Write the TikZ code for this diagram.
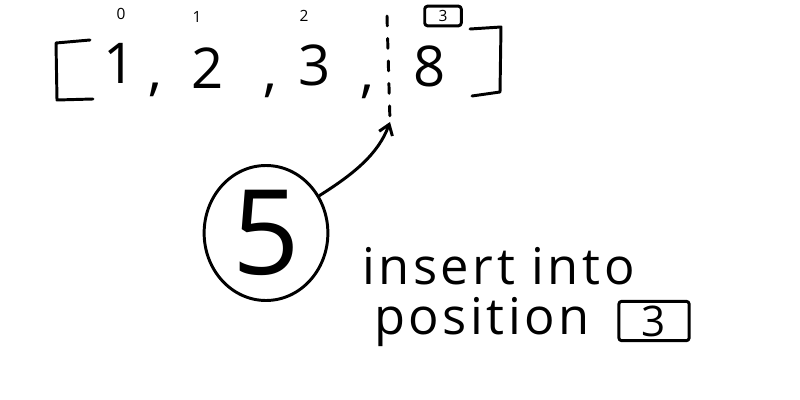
\documentclass[tikz,border=0pt]{standalone}
\usepackage{fontspec}
\setmainfont{Open Sans}
\usetikzlibrary{shapes.geometric,arrows.meta}
\tikzset{
  ink/.style={line width=2.1pt, line cap=round, line join=round, black},
  digit/.style={inner sep=0pt, font=\fontsize{40}{48}\selectfont},
  idx/.style={inner sep=0pt, font=\fontsize{11}{13}\selectfont},
  word/.style={inner sep=0pt, anchor=base west,
    font=\fontsize{36}{44}\selectfont\addfontfeatures{LetterSpace=7}},
  numbox/.style={ink, draw, rounded corners=2pt},
}
\begin{document}
\begin{tikzpicture}[x=0.025cm,y=-0.025cm]
\useasboundingbox (0,0) rectangle (800,400);
% left bracket
\draw[ink] (90,40) -- (56,43) -- (57,100) -- (93,99);
% right bracket
\draw[ink] (470,29) -- (501,27) -- (500,92) -- (472,96);
% elements
\node[digit] (e0) at (120,63) {1};
\node[digit] (e1) at (208,68) {2};
\node[digit] (e2) at (315,65) {3};
\node[digit] (e3) at (430,66) {8};
% commas
\node[digit] (c0) at (155,90) {,};
\node[digit] (c1) at (270,91) {,};
\node[digit] (c2) at (367,92) {,};
% indices
\node[idx] (i0) at (121,14) {0};
\node[idx] (i1) at (197,17) {1};
\node[idx] (i2) at (304,16) {2};
\node[idx, numbox, inner sep=1.5pt, minimum width=26pt, minimum height=14pt] (i3) at (443,16) {3};
% insertion point
\coordinate (gapTop) at (387,16);
\coordinate (gapBot) at (390,122);
\draw[ink, dash pattern=on 7pt off 9pt] (gapTop) -- (gapBot);
% element to insert
\node[ink, draw, ellipse, inner sep=0pt,
      minimum width=88pt, minimum height=96pt,
      font=\fontsize{84}{96}\selectfont] (five) at (266,233) {5};
\draw[ink, -{Straight Barb[length=7pt,width=10pt]}]
  (five.35) .. controls (352,175) and (378,155) .. (gapBot);
% caption
\node[word] (w1) at (362,284) {insert into};
\node[word] (w2) at (374,334) {position};
\node[numbox, minimum width=50pt, minimum height=28pt,
      font=\fontsize{30}{36}\selectfont, inner sep=0pt] (pbox) at (654,321) {3};
\end{tikzpicture}
\end{document}
